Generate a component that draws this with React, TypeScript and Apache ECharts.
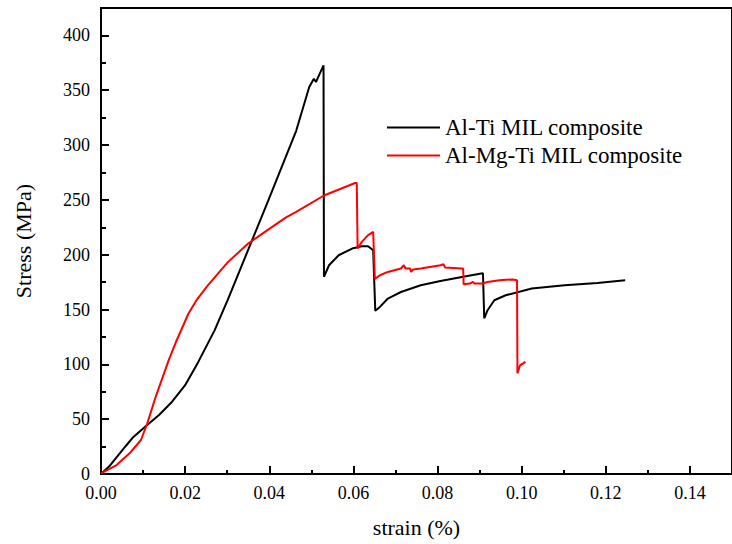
import React, { useEffect, useRef } from "react";
import * as echarts from "echarts";

const alTiStrain = [
  0, 0.0021, 0.006, 0.0075, 0.0107, 0.0138, 0.0169, 0.02, 0.0231, 0.027, 0.0301,
  0.0398, 0.0464, 0.0495, 0.0506, 0.0511, 0.0516, 0.0529, 0.053, 0.0542, 0.0565,
  0.0597, 0.062, 0.0635, 0.0647, 0.0652, 0.0663, 0.0682, 0.0713, 0.076, 0.0807,
  0.0861, 0.0904, 0.0908, 0.0911, 0.0919, 0.0935, 0.0962, 0.1024, 0.1102, 0.118, 0.1246,
];
const alTiStress = [
  0, 7.6, 26, 33, 43.7, 53.8, 65.9, 81, 102, 131, 158.5,
  249.7, 313, 352.9, 360.5, 357.5, 361.7, 372.7, 179.8, 190.4, 199.5,
  205.6, 207.7, 207.7, 204, 148.8, 152.4, 160, 166, 172.2, 176.1,
  179.8, 182.9, 183, 142, 149.4, 158.5, 163, 169.2, 172.2, 174.3, 176.8,
];

const alMgTiStrain = [
  0, 0.0037, 0.0068, 0.0095, 0.011, 0.013, 0.0161, 0.018, 0.0208, 0.0227, 0.0254,
  0.0301, 0.0348, 0.0394, 0.044, 0.0464, 0.053, 0.0604, 0.0608, 0.061, 0.062,
  0.0635, 0.0647, 0.0651, 0.0663, 0.0682, 0.0713, 0.072, 0.0724, 0.0735, 0.0737,
  0.0742, 0.076, 0.0807, 0.0814, 0.0818, 0.0857, 0.0861, 0.0862, 0.0877, 0.0884,
  0.0888, 0.0908, 0.0919, 0.0947, 0.0978, 0.0989, 0.099, 0.0996, 0.1009,
];
const alMgTiStress = [
  0.6, 8.2, 18.9, 31, 46.2, 70.4, 103.9, 122, 146.4, 158.5, 172,
  193, 209.6, 222, 234, 239, 254, 265.4, 265.4, 205.6, 211.7,
  217.8, 220.8, 178, 181.3, 184.3, 187.4, 190.4, 187.5, 187.5, 184.3,
  186.5, 187.4, 190.4, 191.3, 188.3, 187.4, 187.4, 173.1, 173.7, 175.2,
  173.7, 173.7, 175.2, 176.8, 177.4, 176.8, 91.8, 99, 102.3,
];

const seriesNames = ["Al-Ti MIL composite", "Al-Mg-Ti MIL composite"];
const xTickInterval = 0.02;
const yTickInterval = 50;

const FONT = "Liberation Serif";

export default function App() {
  const ref = useRef<HTMLDivElement>(null);
  useEffect(() => {
    if (!ref.current) return;
    const chart = echarts.init(ref.current, undefined, { renderer: "svg" });
    const zip = (xs: number[], ys: number[]) => xs.map((x, i) => [x, ys[i]]);
    chart.setOption({
      animation: false,
      backgroundColor: "#fff",
      textStyle: { fontFamily: FONT },
      grid: {
        left: 101,
        top: 8,
        width: 643,
        height: 466,
        show: true,
        borderColor: "#000",
        borderWidth: 2,
        backgroundColor: "transparent",
      },
      legend: {
        left: 387,
        top: 116,
        orient: "vertical",
        icon: "rect",
        itemWidth: 53,
        itemHeight: 2,
        itemGap: 5,
        padding: 0,
        textStyle: { fontFamily: FONT, fontSize: 23, color: "#000" },
        data: seriesNames,
      },
      xAxis: {
        type: "value",
        min: 0,
        max: 0.15,
        interval: xTickInterval,
        name: "strain (%)",
        nameLocation: "middle",
        nameGap: 42,
        nameTextStyle: { fontFamily: FONT, fontSize: 22, color: "#000" },
        axisLine: { show: true, lineStyle: { color: "#000", width: 2 } },
        axisTick: { show: true, inside: true, length: 8, lineStyle: { color: "#000", width: 2 } },
        minorTick: { show: true, splitNumber: 2, length: 4, lineStyle: { color: "#000", width: 2 } },
        splitLine: { show: false },
        axisLabel: {
          fontFamily: FONT,
          fontSize: 18,
          color: "#000",
          margin: 10,
          showMaxLabel: false,
          formatter: (v: number) => v.toFixed(2),
        },
      },
      yAxis: {
        type: "value",
        min: 0,
        max: 425,
        interval: yTickInterval,
        name: "Stress (MPa)",
        nameLocation: "middle",
        nameGap: 67,
        nameTextStyle: { fontFamily: FONT, fontSize: 22, color: "#000" },
        axisLine: { show: true, lineStyle: { color: "#000", width: 2 } },
        axisTick: { show: true, inside: true, length: 8, lineStyle: { color: "#000", width: 2 } },
        minorTick: { show: true, splitNumber: 2, length: 5, lineStyle: { color: "#000", width: 2 } },
        splitLine: { show: false },
        axisLabel: {
          fontFamily: FONT,
          fontSize: 18,
          color: "#000",
          margin: 11,
          showMaxLabel: false,
        },
      },
      series: [
        {
          name: seriesNames[0],
          type: "line",
          data: zip(alTiStrain, alTiStress),
          showSymbol: false,
          symbol: "none",
          smooth: false,
          lineStyle: { color: "#000", width: 2 },
          itemStyle: { color: "#000" },
        },
        {
          name: seriesNames[1],
          type: "line",
          data: zip(alMgTiStrain, alMgTiStress),
          showSymbol: false,
          symbol: "none",
          smooth: false,
          lineStyle: { color: "#ff0000", width: 2 },
          itemStyle: { color: "#ff0000" },
        },
      ],
    });
    return () => chart.dispose();
  }, []);
  return (
    <div
      ref={ref}
      style={{ position: "absolute", left: 0, top: 0, width: 732, height: 544, background: "#fff" }}
    />
  );
}
